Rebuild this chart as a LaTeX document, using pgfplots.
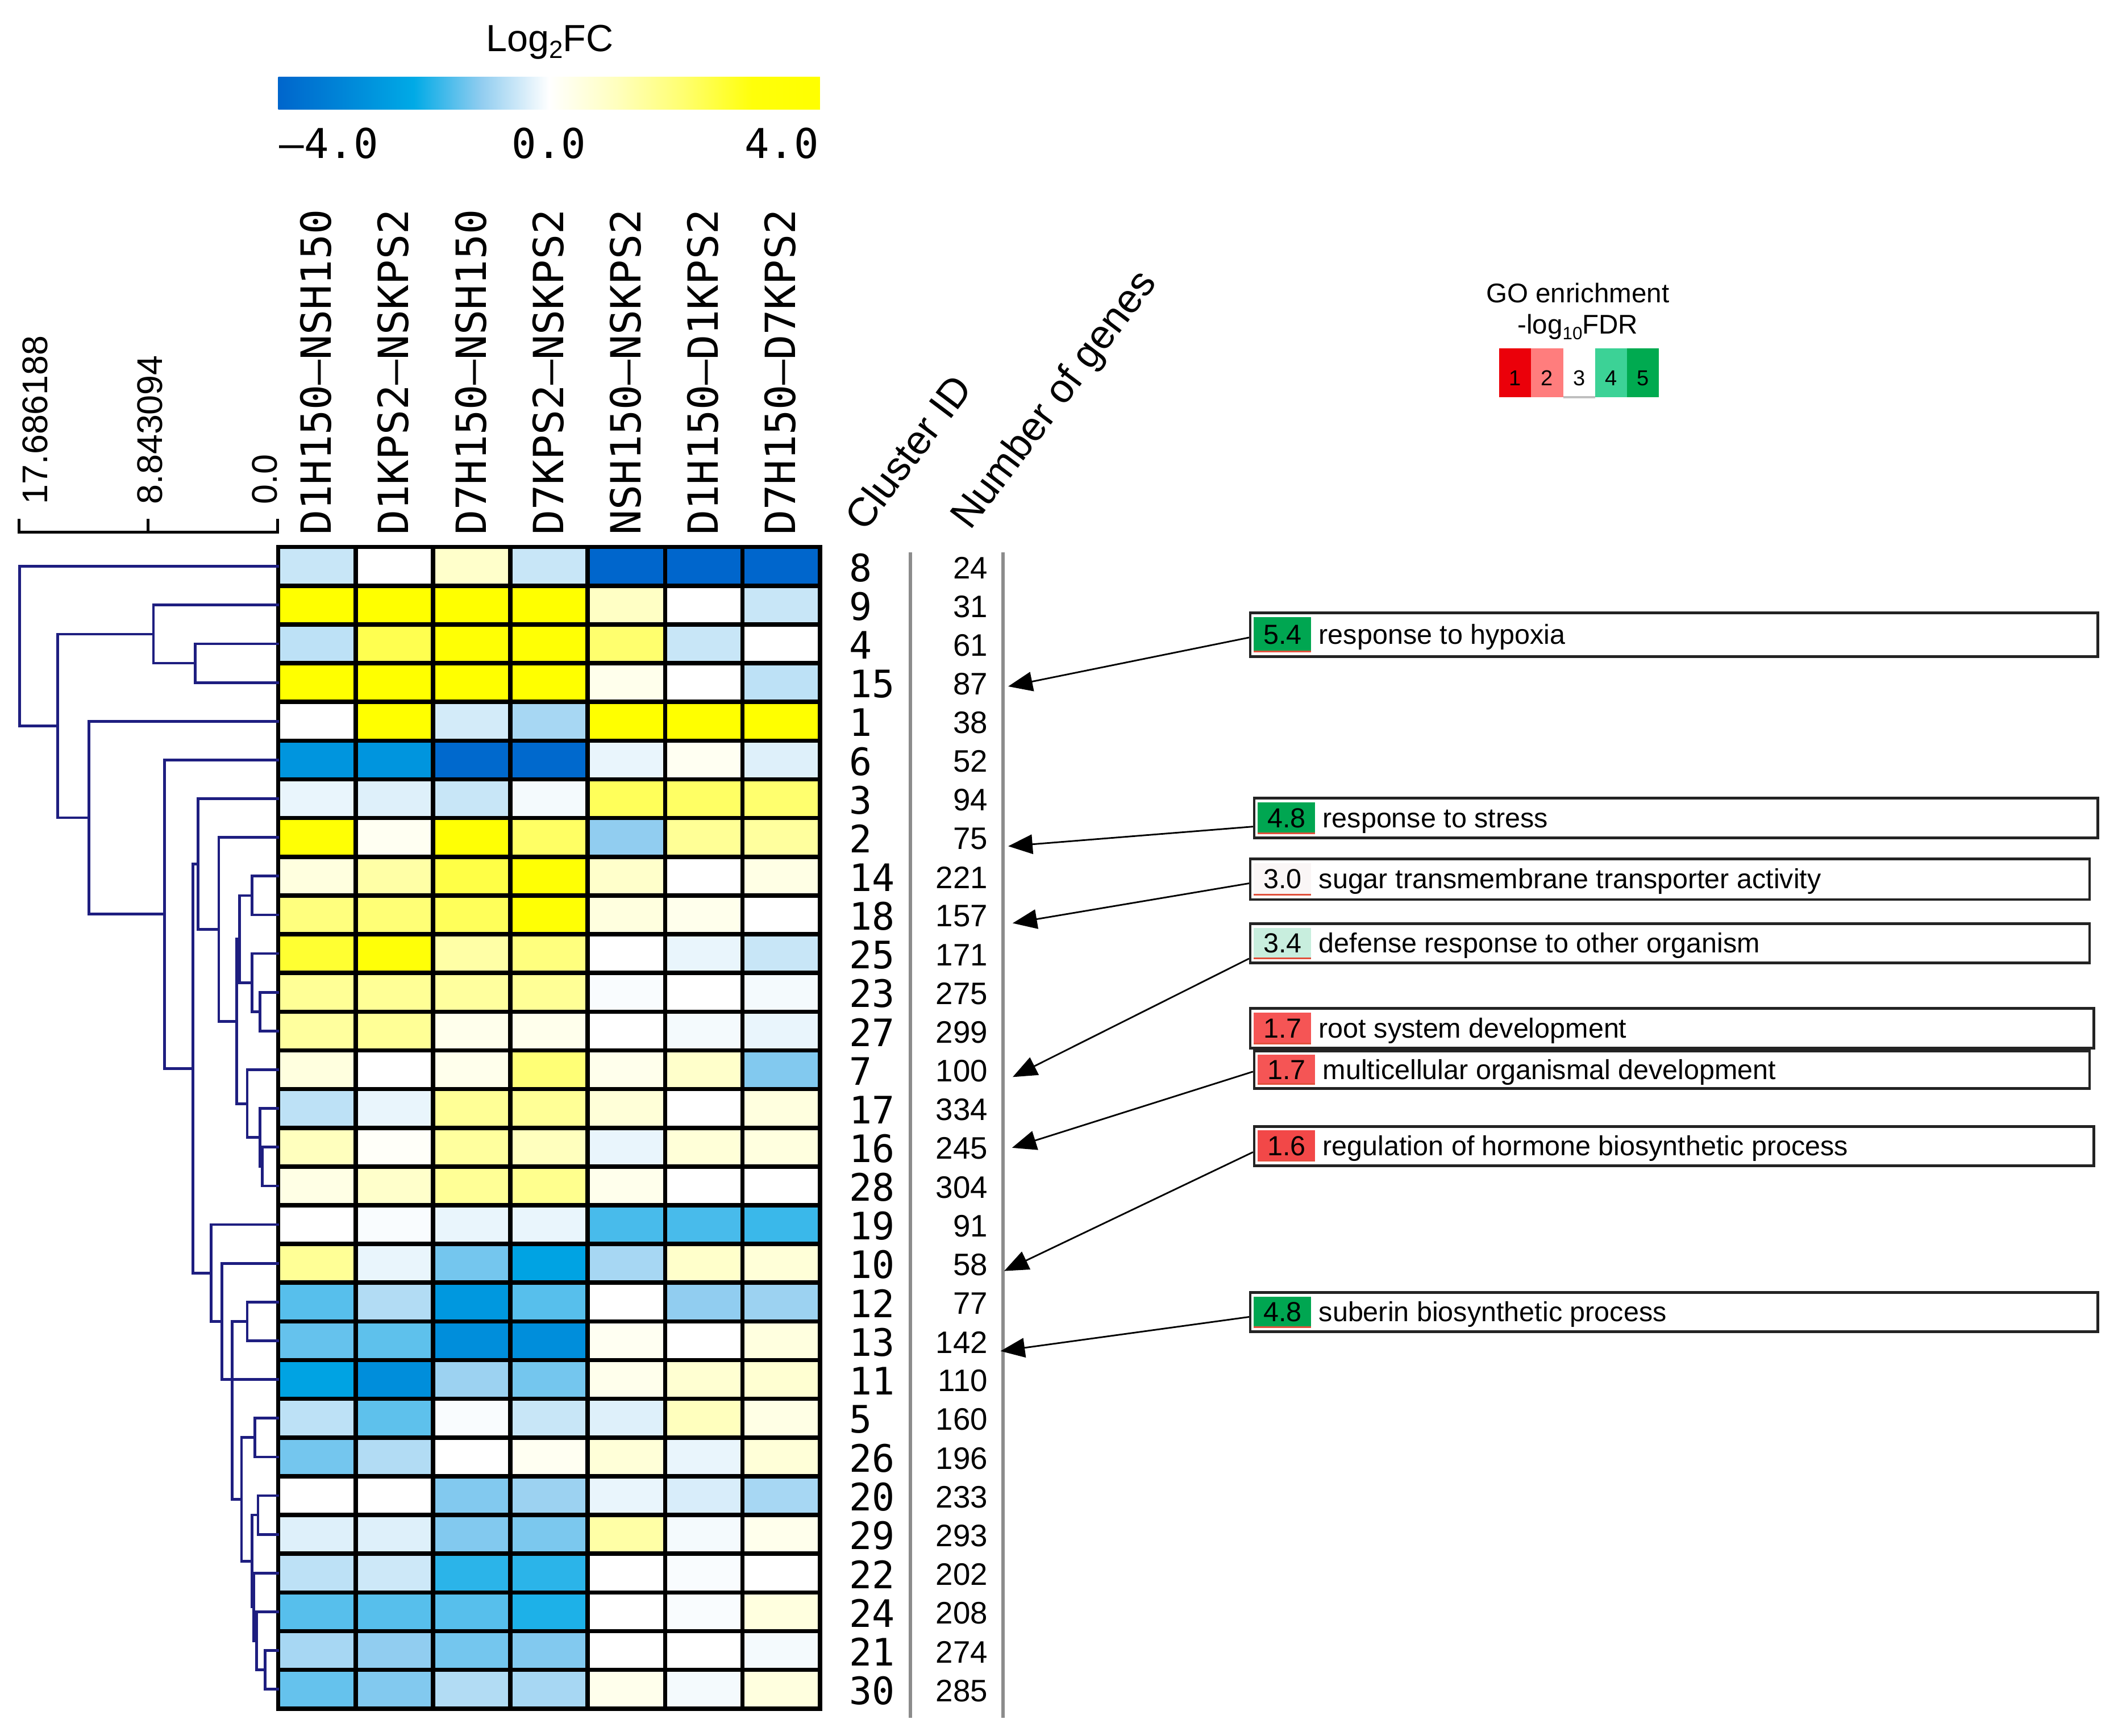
\documentclass[border=0pt]{standalone}
\usepackage{fontspec}
\setmainfont{Liberation Sans}
\newfontfamily\monof{DejaVu Sans Mono}
\usepackage{pgfplots}
\pgfplotsset{compat=1.18}
\usetikzlibrary{arrows.meta}

\definecolor{dendro}{RGB}{30,30,128}
\definecolor{grayline}{RGB}{140,140,140}
\definecolor{boxc}{RGB}{35,35,35}
\definecolor{chipgreen}{RGB}{0,166,81}
\definecolor{chipmint}{RGB}{200,238,222}
\definecolor{chipwhite}{RGB}{250,246,246}
\definecolor{chipred}{RGB}{245,85,85}
\definecolor{chipredb}{RGB}{242,72,72}
\definecolor{chipline}{RGB}{225,80,60}
\definecolor{goa}{RGB}{235,0,10}
\definecolor{gob}{RGB}{255,125,125}
\definecolor{goc}{RGB}{255,255,255}
\definecolor{god}{RGB}{60,210,150}
\definecolor{goe}{RGB}{0,170,80}

\newcommand{\fs}[1]{\fontsize{#1}{#1}\selectfont}
\tikzset{cid/.style={anchor=west, font=\monof\fs{7}, inner sep=0pt}, ng/.style={anchor=east, font=\fs{5.75}, inner sep=0pt}}

\pgfdeclarehorizontalshading{lfc}{100bp}{rgb(0bp)=(0,0.4,0.8); rgb(25bp)=(0,0.4,0.8); rgb(31.25bp)=(0,0.529,0.847); rgb(37.5bp)=(0,0.667,0.902); rgb(43.75bp)=(0.569,0.804,0.941); rgb(50bp)=(1,1,1); rgb(56.25bp)=(1,1,0.745); rgb(62.5bp)=(1,1,0.431); rgb(68.75bp)=(1,1,0.039); rgb(75bp)=(1,1,0); rgb(100bp)=(1,1,0)}

% dendrogram bracket: child1 h, child1 row, node h, child2 row, child2 h
\newcommand{\br}[5]{\addplot[dg] table[row sep=\\, x expr=205.5-10.8*\thisrow{h}, y expr=419.333+28.6667*\thisrow{r}] {h r\\ #1 #2\\ #3 #2\\ #3 #4\\ #5 #4\\};}

% GO box: x1 y1 x2 y2 chipcolor value text
\newcommand{\gobox}[7]{%
 \draw[boxc, line width=0.5pt, fill=white] (axis cs:#1,#2) rectangle (axis cs:#3,#4);
 \fill[#5] (axis cs:{#1+2.5},{#2+3}) rectangle (axis cs:{#1+45},{#4-3});
 \draw[chipline, line width=0.3pt] (axis cs:{#1+2.5},{#4-3.5}) -- (axis cs:{#1+45},{#4-3.5});
 \node[anchor=base, font=\fs{5.1}, inner sep=0pt] at (axis cs:{#1+24},{(#2+#4)/2+7}) {#6};
 \node[anchor=base west, font=\fs{5.1}, inner sep=0pt] at (axis cs:{#1+50},{(#2+#4)/2+7}) {#7};
}

\begin{document}
\begin{tikzpicture}
\begin{axis}[
  scale only axis, width=392pt, height=321.25pt,
  xmin=0, xmax=1568, ymin=0, ymax=1285, y dir=reverse,
  hide axis, clip=false,
  colormap={lfc}{rgb255(0cm)=(0,102,204); rgb255(1cm)=(0,135,216); rgb255(2cm)=(0,170,230); rgb255(3cm)=(145,205,240); rgb255(4cm)=(255,255,255); rgb255(5cm)=(255,255,190); rgb255(6cm)=(255,255,110); rgb255(7cm)=(255,255,10); rgb255(8cm)=(255,255,0)},
  point meta min=-4, point meta max=4,
  dg/.style={draw=dendro, line width=0.5pt, no markers, forget plot, line cap=rect},
]
\path (axis cs:0,0) rectangle (axis cs:1568,1285);

% ---------- heatmap ----------
\addplot[matrix plot*, mesh/cols=7, point meta=explicit, forget plot]
 table[row sep=\\, x expr=206+57.2857*(\thisrow{c}+0.5), y expr=405+28.6667*(\thisrow{r}+0.5), meta=v] {
c r v\\
0 0 -0.5\\ 1 0 0\\ 2 0 0.8\\ 3 0 -0.5\\ 4 0 -4\\ 5 0 -4\\ 6 0 -4\\
0 1 4\\ 1 1 4\\ 2 1 4\\ 3 1 4\\ 4 1 0.9\\ 5 1 0\\ 6 1 -0.5\\
0 2 -0.6\\ 1 2 2.3\\ 2 2 3.5\\ 3 2 3.5\\ 4 2 2\\ 5 2 -0.5\\ 6 2 0\\
0 3 4\\ 1 3 4\\ 2 3 4\\ 3 3 4\\ 4 3 0.3\\ 5 3 0\\ 6 3 -0.6\\
0 4 0\\ 1 4 4\\ 2 4 -0.4\\ 3 4 -0.8\\ 4 4 4\\ 5 4 4\\ 6 4 4\\
0 5 -2.6\\ 1 5 -2.6\\ 2 5 -3.9\\ 3 5 -3.9\\ 4 5 -0.2\\ 5 5 0.2\\ 6 5 -0.3\\
0 6 -0.2\\ 1 6 -0.3\\ 2 6 -0.5\\ 3 6 -0.1\\ 4 6 2.2\\ 5 6 2.1\\ 6 6 2\\
0 7 3.5\\ 1 7 0.2\\ 2 7 3.5\\ 3 7 2.1\\ 4 7 -1\\ 5 7 1.5\\ 6 7 1.4\\
0 8 0.5\\ 1 8 1.3\\ 2 8 2.4\\ 3 8 3.5\\ 4 8 0.8\\ 5 8 0\\ 6 8 0.4\\
0 9 1.8\\ 1 9 1.9\\ 2 9 2.2\\ 3 9 3.5\\ 4 9 0.5\\ 5 9 0.3\\ 6 9 0\\
0 10 2.6\\ 1 10 3.2\\ 2 10 1.3\\ 3 10 1.8\\ 4 10 0\\ 5 10 -0.2\\ 6 10 -0.5\\
0 11 1.5\\ 1 11 1.5\\ 2 11 1.4\\ 3 11 1.5\\ 4 11 -0.05\\ 5 11 0\\ 6 11 -0.1\\
0 12 1.4\\ 1 12 1.5\\ 2 12 0.3\\ 3 12 0.3\\ 4 12 0\\ 5 12 -0.1\\ 6 12 -0.2\\
0 13 0.5\\ 1 13 0\\ 2 13 0.3\\ 3 13 1.9\\ 4 13 0.3\\ 5 13 0.8\\ 6 13 -1.1\\
0 14 -0.6\\ 1 14 -0.2\\ 2 14 1.5\\ 3 14 1.5\\ 4 14 0.6\\ 5 14 0\\ 6 14 0.5\\
0 15 1\\ 1 15 0.1\\ 2 15 1.4\\ 3 15 1\\ 4 15 -0.2\\ 5 15 0.6\\ 6 15 0.5\\
0 16 0.4\\ 1 16 0.8\\ 2 16 1.5\\ 3 16 1.6\\ 4 16 0.3\\ 5 16 0\\ 6 16 0\\
0 17 0\\ 1 17 -0.05\\ 2 17 -0.2\\ 3 17 -0.2\\ 4 17 -1.5\\ 5 17 -1.5\\ 6 17 -1.6\\
0 18 1.5\\ 1 18 -0.2\\ 2 18 -1.2\\ 3 18 -2.2\\ 4 18 -0.8\\ 5 18 0.8\\ 6 18 0.6\\
0 19 -1.4\\ 1 19 -0.7\\ 2 19 -2.5\\ 3 19 -1.4\\ 4 19 0\\ 5 19 -1\\ 6 19 -0.9\\
0 20 -1.3\\ 1 20 -1.35\\ 2 20 -2.8\\ 3 20 -2.8\\ 4 20 0.2\\ 5 20 0\\ 6 20 0.5\\
0 21 -2.2\\ 1 21 -2.8\\ 2 21 -0.9\\ 3 21 -1.2\\ 4 21 0.3\\ 5 21 0.7\\ 6 21 0.7\\
0 22 -0.6\\ 1 22 -1.35\\ 2 22 -0.05\\ 3 22 -0.5\\ 4 22 -0.3\\ 5 22 1\\ 6 22 0.4\\
0 23 -1.2\\ 1 23 -0.7\\ 2 23 0\\ 3 23 0.2\\ 4 23 0.6\\ 5 23 -0.2\\ 6 23 0.6\\
0 24 0\\ 1 24 0\\ 2 24 -1.1\\ 3 24 -0.9\\ 4 24 -0.2\\ 5 24 -0.35\\ 6 24 -0.8\\
0 25 -0.3\\ 1 25 -0.3\\ 2 25 -1.1\\ 3 25 -1.15\\ 4 25 1.3\\ 5 25 -0.1\\ 6 25 0.3\\
0 26 -0.6\\ 1 26 -0.45\\ 2 26 -1.7\\ 3 26 -1.7\\ 4 26 0\\ 5 26 -0.05\\ 6 26 0\\
0 27 -1.4\\ 1 27 -1.4\\ 2 27 -1.4\\ 3 27 -1.8\\ 4 27 0\\ 5 27 -0.05\\ 6 27 0.5\\
0 28 -0.8\\ 1 28 -1\\ 2 28 -1.2\\ 3 28 -1.1\\ 4 28 0\\ 5 28 0\\ 6 28 -0.1\\
0 29 -1.3\\ 1 29 -1.1\\ 2 29 -0.7\\ 3 29 -0.8\\ 4 29 0.3\\ 5 29 -0.1\\ 6 29 0.5\\
};

% grid of the heatmap
\pgfplotsinvokeforeach{0,...,30}{\draw[black, line width=0.8pt, line cap=rect] (axis cs:206,{405+28.6667*#1}) -- (axis cs:607,{405+28.6667*#1});}
\pgfplotsinvokeforeach{0,...,7}{\draw[black, line width=0.8pt, line cap=rect] (axis cs:{206+57.2857*#1},405) -- (axis cs:{206+57.2857*#1},1265);}

% ---------- dendrogram ----------
\br{0}{0}{17.69}{4.12}{15.06}
\br{8.51}{1.75}{15.06}{6.49}{12.93}
\br{0}{1}{8.51}{2.5}{5.66}
\br{0}{2}{5.66}{3}{0}
\br{0}{4}{12.93}{8.98}{7.76}
\br{0}{5}{7.76}{12.97}{5.81}
\br{5.46}{7.69}{5.81}{18.25}{4.55}
\br{0}{6}{5.46}{9.375}{4.03}
\br{0}{7}{4.03}{11.75}{2.80}
\br{2.60}{9.625}{2.80}{13.875}{2.08}
\br{1.76}{8.5}{2.60}{10.75}{1.76}
\br{0}{8}{1.76}{9}{0}
\br{0}{10}{1.76}{11.5}{1.21}
\br{0}{11}{1.21}{12}{0}
\br{0}{13}{2.08}{14.75}{1.21}
\br{0}{14}{1.21}{15.5}{1.05}
\br{0}{15}{1.05}{16}{0}
\br{0}{17}{4.55}{19.5}{3.83}
\br{0}{18}{3.83}{21}{0}
\br{2.08}{19.5}{3.12}{24.09}{2.47}
\br{0}{19}{2.08}{20}{0}
\br{1.56}{22.5}{2.47}{25.69}{1.76}
\br{0}{22}{1.56}{23}{0}
\br{1.34}{24.5}{1.76}{26.875}{1.63}
\br{0}{24}{1.34}{25}{0}
\br{0}{26}{1.63}{27.75}{1.44}
\br{0}{27}{1.44}{28.5}{0.85}
\br{0}{28}{0.85}{29}{0}

% dendrogram scale
\draw[black, line width=0.5pt] (axis cs:14,384) -- (axis cs:14,394) -- (axis cs:205.5,394) -- (axis cs:205.5,384);
\draw[black, line width=0.5pt] (axis cs:109.5,384) -- (axis cs:109.5,394);
\node[rotate=90, anchor=west, font=\fs{6.6}, inner sep=0pt] at (axis cs:26,374) {17.686188};
\node[rotate=90, anchor=west, font=\fs{6.6}, inner sep=0pt] at (axis cs:111,374) {8.843094};
\node[rotate=90, anchor=west, font=\fs{6.6}, inner sep=0pt] at (axis cs:196,374) {0.0};

% ---------- colour bar ----------
\shade[shading=lfc] (axis cs:206,57) rectangle (axis cs:607,81);
\node[font=\fs{7}] at (axis cs:407,31) {Log\raisebox{-0.35ex}{\fs{4.6}2}FC};
\node[anchor=base west, font=\monof\fs{7.6}, inner sep=0pt] at (axis cs:206,117) {–4.0};
\node[anchor=base, font=\monof\fs{7.6}, inner sep=0pt] at (axis cs:406.5,117) {0.0};
\node[anchor=base east, font=\monof\fs{7.6}, inner sep=0pt] at (axis cs:607,117) {4.0};

% ---------- column labels ----------
\node[rotate=90, anchor=mid west, font=\monof\fs{7.7}, inner sep=0pt] at (axis cs:234.6,397) {D1H150–NSH150};
\node[rotate=90, anchor=mid west, font=\monof\fs{7.7}, inner sep=0pt] at (axis cs:291.9,397) {D1KPS2–NSKPS2};
\node[rotate=90, anchor=mid west, font=\monof\fs{7.7}, inner sep=0pt] at (axis cs:349.2,397) {D7H150–NSH150};
\node[rotate=90, anchor=mid west, font=\monof\fs{7.7}, inner sep=0pt] at (axis cs:406.5,397) {D7KPS2–NSKPS2};
\node[rotate=90, anchor=mid west, font=\monof\fs{7.7}, inner sep=0pt] at (axis cs:463.8,397) {NSH150–NSKPS2};
\node[rotate=90, anchor=mid west, font=\monof\fs{7.7}, inner sep=0pt] at (axis cs:521.1,397) {D1H150–D1KPS2};
\node[rotate=90, anchor=mid west, font=\monof\fs{7.7}, inner sep=0pt] at (axis cs:578.4,397) {D7H150–D7KPS2};

\node[rotate=53, anchor=base west, font=\fs{7.5}, inner sep=0pt] at (axis cs:640,395) {Cluster ID};
\node[rotate=53, anchor=base west, font=\fs{7.5}, inner sep=0pt] at (axis cs:718,394) {Number of genes};

% ---------- cluster ids and gene numbers ----------
\draw[grayline, line width=0.55pt] (axis cs:674,409) -- (axis cs:674,1272);
\draw[grayline, line width=0.55pt] (axis cs:742.6,409) -- (axis cs:742.6,1272);
\node[cid] at (axis cs:628,420.3) {8};   \node[ng] at (axis cs:732,420.3) {24};
\node[cid] at (axis cs:628,449.0) {9};   \node[ng] at (axis cs:732,449.0) {31};
\node[cid] at (axis cs:628,477.7) {4};   \node[ng] at (axis cs:732,477.7) {61};
\node[cid] at (axis cs:628,506.3) {15};  \node[ng] at (axis cs:732,506.3) {87};
\node[cid] at (axis cs:628,535.0) {1};   \node[ng] at (axis cs:732,535.0) {38};
\node[cid] at (axis cs:628,563.7) {6};   \node[ng] at (axis cs:732,563.7) {52};
\node[cid] at (axis cs:628,592.3) {3};   \node[ng] at (axis cs:732,592.3) {94};
\node[cid] at (axis cs:628,621.0) {2};   \node[ng] at (axis cs:732,621.0) {75};
\node[cid] at (axis cs:628,649.7) {14};  \node[ng] at (axis cs:732,649.7) {221};
\node[cid] at (axis cs:628,678.3) {18};  \node[ng] at (axis cs:732,678.3) {157};
\node[cid] at (axis cs:628,707.0) {25};  \node[ng] at (axis cs:732,707.0) {171};
\node[cid] at (axis cs:628,735.7) {23};  \node[ng] at (axis cs:732,735.7) {275};
\node[cid] at (axis cs:628,764.3) {27};  \node[ng] at (axis cs:732,764.3) {299};
\node[cid] at (axis cs:628,793.0) {7};   \node[ng] at (axis cs:732,793.0) {100};
\node[cid] at (axis cs:628,821.7) {17};  \node[ng] at (axis cs:732,821.7) {334};
\node[cid] at (axis cs:628,850.3) {16};  \node[ng] at (axis cs:732,850.3) {245};
\node[cid] at (axis cs:628,879.0) {28};  \node[ng] at (axis cs:732,879.0) {304};
\node[cid] at (axis cs:628,907.7) {19};  \node[ng] at (axis cs:732,907.7) {91};
\node[cid] at (axis cs:628,936.3) {10};  \node[ng] at (axis cs:732,936.3) {58};
\node[cid] at (axis cs:628,965.0) {12};  \node[ng] at (axis cs:732,965.0) {77};
\node[cid] at (axis cs:628,993.7) {13};  \node[ng] at (axis cs:732,993.7) {142};
\node[cid] at (axis cs:628,1022.3) {11}; \node[ng] at (axis cs:732,1022.3) {110};
\node[cid] at (axis cs:628,1051.0) {5};  \node[ng] at (axis cs:732,1051.0) {160};
\node[cid] at (axis cs:628,1079.7) {26}; \node[ng] at (axis cs:732,1079.7) {196};
\node[cid] at (axis cs:628,1108.3) {20}; \node[ng] at (axis cs:732,1108.3) {233};
\node[cid] at (axis cs:628,1137.0) {29}; \node[ng] at (axis cs:732,1137.0) {293};
\node[cid] at (axis cs:628,1165.7) {22}; \node[ng] at (axis cs:732,1165.7) {202};
\node[cid] at (axis cs:628,1194.3) {24}; \node[ng] at (axis cs:732,1194.3) {208};
\node[cid] at (axis cs:628,1223.0) {21}; \node[ng] at (axis cs:732,1223.0) {274};
\node[cid] at (axis cs:628,1251.7) {30}; \node[ng] at (axis cs:732,1251.7) {285};

% ---------- GO legend ----------
\node[font=\fs{5}, inner sep=0pt] at (axis cs:1168,217) {GO enrichment};
\node[font=\fs{5}, inner sep=0pt] at (axis cs:1168,242) {-log\raisebox{-0.4ex}{\fs{3.3}10}FDR};
\fill[goa] (axis cs:1110,258) rectangle (axis cs:1133.6,294);
\fill[gob] (axis cs:1133.6,258) rectangle (axis cs:1157.2,294);
\fill[goc] (axis cs:1157.2,258) rectangle (axis cs:1180.8,294);
\fill[god] (axis cs:1180.8,258) rectangle (axis cs:1204.4,294);
\fill[goe] (axis cs:1204.4,258) rectangle (axis cs:1228,294);
\draw[black!25, line width=0.4pt] (axis cs:1157.2,294) -- (axis cs:1180.8,294);
\node[font=\fs{4}, inner sep=0pt] at (axis cs:1121.8,280) {1};
\node[font=\fs{4}, inner sep=0pt] at (axis cs:1145.4,280) {2};
\node[font=\fs{4}, inner sep=0pt] at (axis cs:1169,280) {3};
\node[font=\fs{4}, inner sep=0pt] at (axis cs:1192.6,280) {4};
\node[font=\fs{4}, inner sep=0pt] at (axis cs:1216.2,280) {5};

% ---------- arrows ----------
\draw[-{Triangle[length=4.5pt,width=3.6pt]}, line width=0.3pt] (axis cs:924.7,472) -- (axis cs:746.4,508.2);
\draw[-{Triangle[length=4.5pt,width=3.6pt]}, line width=0.3pt] (axis cs:927.6,612) -- (axis cs:746.4,626.5);
\draw[-{Triangle[length=4.5pt,width=3.6pt]}, line width=0.3pt] (axis cs:924.7,654) -- (axis cs:749.7,683.5);
\draw[-{Triangle[length=4.5pt,width=3.6pt]}, line width=0.3pt] (axis cs:924.7,709.7) -- (axis cs:749.7,797.4);
\draw[-{Triangle[length=4.5pt,width=3.6pt]}, line width=0.3pt] (axis cs:927.6,793.4) -- (axis cs:749.2,849.8);
\draw[-{Triangle[length=4.5pt,width=3.6pt]}, line width=0.3pt] (axis cs:927.6,853) -- (axis cs:743.4,941);
\draw[-{Triangle[length=4.5pt,width=3.6pt]}, line width=0.3pt] (axis cs:924.7,975) -- (axis cs:740.7,1000.3);

% ---------- GO boxes ----------
\gobox{925.6}{453.8}{1553.2}{486}{chipgreen}{5.4}{response to hypoxia}
\gobox{928.5}{591}{1553}{620.5}{chipgreen}{4.8}{response to stress}
\gobox{925.6}{636}{1547}{666}{chipwhite}{3.0}{sugar transmembrane transporter activity}
\gobox{925.6}{684}{1547}{713}{chipmint}{3.4}{defense response to other organism}
\gobox{925.6}{746.7}{1550}{776}{chipred}{1.7}{root system development}
\gobox{928.5}{778}{1547}{806}{chipred}{1.7}{multicellular organismal development}
\gobox{928.5}{834}{1550}{863}{chipredb}{1.6}{regulation of hormone biosynthetic process}
\gobox{925.6}{957}{1553}{986}{chipgreen}{4.8}{suberin biosynthetic process}

\end{axis}
\end{tikzpicture}
\end{document}
